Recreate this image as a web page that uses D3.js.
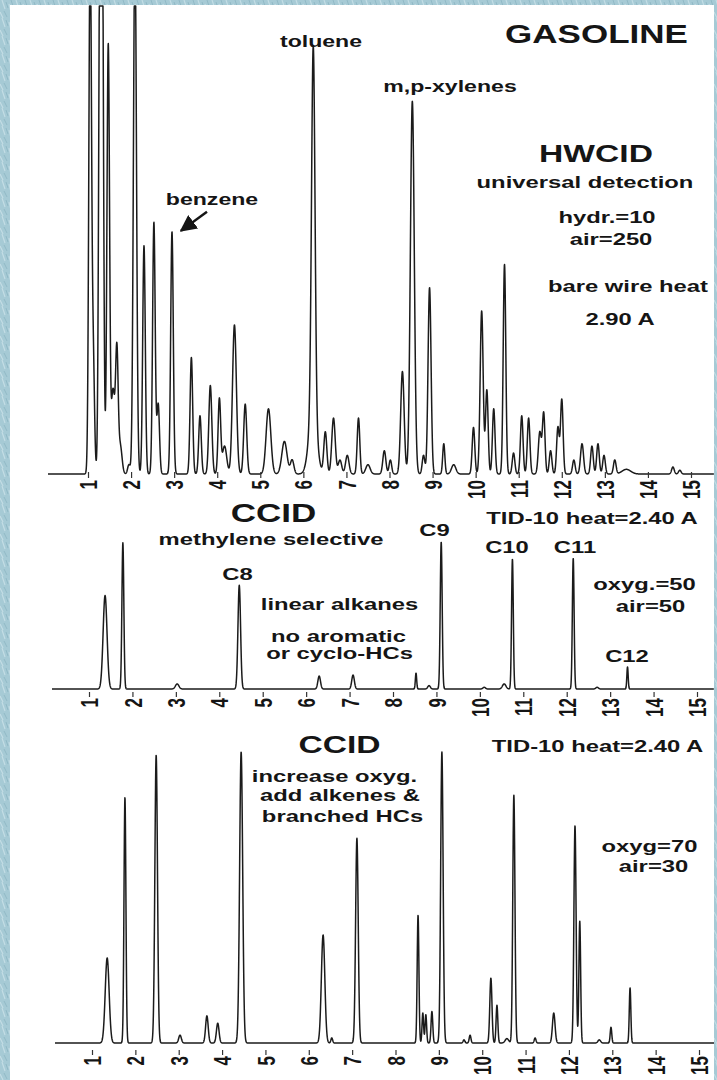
<!DOCTYPE html>
<html><head><meta charset="utf-8">
<script src="https://cdn.jsdelivr.net/npm/d3@7/dist/d3.min.js"></script>
<style>
html,body{margin:0;padding:0;background:#fff;}
svg{display:block;}
text{font-family:"Liberation Sans",Arial,Helvetica,sans-serif;font-weight:bold;fill:#151515;}
</style></head><body>
<svg id="chart" width="717" height="1080"></svg>
<script>
// ---------------- DATA ----------------
const tickValues = [1,2,3,4,5,6,7,8,9,10,11,12,13,14,15];   // retention time, min
const tickLabels = ["1","2","3","4","5","6","7","8","9","10","11","12","13","14","15"];

// HWCID – gasoline, universal detection (response in % of full scale; >100 = off scale)
const hwcidTimes   = [1.05,1.12,1.28,1.33,1.47,1.58,1.67,1.75,1.95,2.09,2.30,2.53,2.63,2.95,3.40,3.60,3.84,4.05,4.17,4.40,4.65,5.19,5.56,5.74,6.22,6.23,6.51,6.70,6.85,7.02,7.28,7.50,7.88,8.02,8.30,8.53,8.79,8.93,9.26,9.49,9.95,10.14,10.26,10.42,10.67,10.88,11.07,11.23,11.49,11.58,11.74,11.91,12.00,12.28,12.47,12.70,12.84,12.98,13.23,13.50,14.58,14.74];
const hwcidHeights = [115,25,115,115,92,18,26,6,2,115,49,54,15,52,25,12.5,19,16,6,32,15,14,7,3,14,78,9,12,3,4,12,2,5,3,22,80,4,40,6.5,2,10,35,18,14,45,4.5,12.5,12,9,13,5,10,16,3,6.5,6,6.5,4,3,1,1.5,0.8];
const hwcidWidths  = [0.03,0.03,0.03,0.03,0.03,0.04,0.03,0.04,0.03,0.035,0.03,0.03,0.03,0.03,0.03,0.03,0.035,0.03,0.05,0.045,0.035,0.055,0.06,0.04,0.09,0.04,0.035,0.04,0.04,0.04,0.03,0.05,0.035,0.03,0.04,0.045,0.03,0.035,0.025,0.05,0.03,0.035,0.03,0.03,0.03,0.03,0.03,0.03,0.035,0.03,0.03,0.03,0.03,0.03,0.035,0.03,0.03,0.03,0.03,0.1,0.03,0.03];

// CCID – methylene selective (oxyg.=50, air=50)
const ccid1Times   = [1.37,1.78,3.03,4.46,6.30,7.08,8.53,8.83,9.11,10.10,10.56,10.75,12.15,12.70,13.40];
const ccid1Heights = [55,86,3,61,7.6,8.2,9.4,2,86.5,1,3,76.5,77,1,13];
const ccid1Widths  = [0.045,0.022,0.04,0.03,0.03,0.03,0.015,0.03,0.022,0.03,0.04,0.02,0.02,0.03,0.015];

// CCID – increased oxygen (oxyg=70, air=30)
const ccid2Times   = [1.35,1.76,2.48,3.03,3.65,3.90,4.44,6.33,6.53,7.11,8.52,8.63,8.70,8.84,9.07,9.58,9.72,10.20,10.34,10.57,10.73,11.22,11.65,12.14,12.25,12.70,12.97,13.41];
const ccid2Heights = [27,78,91.4,2.5,8.6,6.3,92.4,34.3,1.6,65,40.6,9.5,9,10,92.4,1,2.5,20.6,12,1.4,78.7,1.6,9.5,69,38.7,1,5,17.5];
const ccid2Widths  = [0.045,0.022,0.03,0.03,0.03,0.03,0.035,0.04,0.02,0.03,0.02,0.018,0.018,0.02,0.028,0.02,0.02,0.025,0.02,0.04,0.025,0.02,0.03,0.025,0.02,0.03,0.018,0.018];

// ---------------- DRAWING ----------------
const svg = d3.select("#chart");
const SX = 1.4; // horizontal stretch of the scanned figure's lettering

function buildTrace(times, heights, widths, t0, t1){
  const pts = [];
  for (let t = t0; t <= t1 + 1e-9; t += 0.004){
    let v = 0;
    for (let i = 0; i < times.length; i++){
      const d = (t - times[i]) / widths[i];
      if (Math.abs(d) < 8) v += heights[i] * Math.exp(-0.5 * d * d);
    }
    pts.push([t, v]);
  }
  return pts;
}

function panel(cfg){
  const x = d3.scaleLinear().domain([1,15]).range(cfg.xr);
  const y = d3.scaleLinear().domain([0,100]).range([cfg.base, cfg.top]);
  const g = svg.append("g");
  const data = buildTrace(cfg.times, cfg.heights, cfg.widths, x.invert(cfg.x0), x.invert(cfg.x1));
  const line = d3.line().x(d => x(d[0])).y(d => Math.max(y(d[1]), cfg.clipTop));
  g.append("path").datum(data).attr("d", line)
    .attr("fill","none").attr("stroke","#1b1b1b").attr("stroke-width",1.5)
    .attr("stroke-linejoin","round");
  const axis = d3.axisBottom(x).tickValues(tickValues)
    .tickFormat((d,i) => tickLabels[i]).tickSizeOuter(0);
  const ag = g.append("g").attr("transform", `translate(0,${cfg.base})`).call(axis);
  ag.attr("font-size", null).attr("font-family", null);
  ag.select(".domain").remove();
  ag.selectAll(".tick line").attr("y1", cfg.tk[0]).attr("y2", cfg.tk[1])
    .attr("stroke","#333").attr("stroke-width",1.2);
  ag.selectAll(".tick text")
    .attr("x",0).attr("y",0).attr("dy","0.36em")
    .attr("text-anchor","end")
    .attr("transform", `translate(0,${cfg.lab}) scale(${SX},1) rotate(-90)`)
    .style("font-family",'"Liberation Sans",Arial,sans-serif')
    .style("font-weight","bold").style("font-size","17px").attr("fill","#151515");
  return {x, y, g};
}

const p1 = panel({times:hwcidTimes, heights:hwcidHeights, widths:hwcidWidths,
  xr:[88,691], base:474, top:8, x0:48, x1:714, clipTop:6, tk:[-2,4], lab:6});
const p2 = panel({times:ccid1Times, heights:ccid1Heights, widths:ccid1Widths,
  xr:[89,697], base:689, top:519, x0:52, x1:714, clipTop:0, tk:[3,8], lab:9});
const p3 = panel({times:ccid2Times, heights:ccid2Heights, widths:ccid2Widths,
  xr:[92,699], base:1043, top:728, x0:55, x1:717, clipTop:0, tk:[7,12], lab:13});

// ---------------- ANNOTATIONS ----------------
const notes = [
  ["GASOLINE", 596.5, 43, 25],
  ["toluene", 321, 47, 16.5],
  ["m,p-xylenes", 450, 92, 16.5],
  ["HWCID", 596, 162, 24],
  ["universal detection", 585, 188, 17],
  ["hydr.=10", 607, 223, 17],
  ["air=250", 611, 245, 17],
  ["bare wire heat", 628, 292, 17],
  ["2.90 A", 620, 325, 17],
  ["benzene", 212, 205, 16.5],
  ["CCID", 273.5, 522, 25],
  ["methylene selective", 271, 545, 17],
  ["C8", 237.5, 580, 17],
  ["C9", 434.5, 536, 17],
  ["linear alkanes", 339.5, 610, 17],
  ["no aromatic", 338.5, 642, 17],
  ["or cyclo-HCs", 339.5, 659, 17],
  ["TID-10 heat=2.40 A", 592, 524, 17],
  ["C10", 507, 553, 17],
  ["C11", 575, 553, 17],
  ["oxyg.=50", 644.5, 590, 17],
  ["air=50", 650.5, 612, 17],
  ["C12", 627, 662, 17],
  ["CCID", 339.5, 753, 24],
  ["increase oxyg.", 334.5, 782, 17],
  ["add alkenes &", 340, 801, 17],
  ["branched HCs", 342.5, 822, 17],
  ["TID-10 heat=2.40 A", 597.5, 752, 17],
  ["oxyg=70", 649.5, 852, 17],
  ["air=30", 653.5, 872, 17]
];
svg.append("g").selectAll("text").data(notes).join("text")
  .attr("text-anchor","middle")
  .attr("transform", d => `translate(${d[1]},${d[2]}) scale(${SX},1)`)
  .style("font-size", d => d[3] + "px")
  .text(d => d[0]);

// benzene arrow, pointing at the benzene peak
const bx = p1.x(2.95), by = p1.y(52);
svg.append("defs").append("marker").attr("id","ah")
  .attr("viewBox","0 0 10 10").attr("refX",9).attr("refY",5)
  .attr("markerWidth",7).attr("markerHeight",7).attr("orient","auto")
  .append("path").attr("d","M0,0 L10,5 L0,10 z").attr("fill","#151515");
svg.append("line").attr("x1", bx + 35).attr("y1", by - 20)
  .attr("x2", bx + 9).attr("y2", by - 1)
  .attr("stroke","#151515").attr("stroke-width",2.4).attr("marker-end","url(#ah)");

// ---------------- SCANNED-PAGE BORDER ----------------
const defs = svg.select("defs");
const pat = defs.append("pattern").attr("id","tex").attr("patternUnits","userSpaceOnUse")
  .attr("width",14).attr("height",18);
pat.append("rect").attr("width",14).attr("height",18).attr("fill","#a6cad5");
pat.append("path").attr("d","M2,0 L5,9 M9,4 L12,16 M0,12 L3,18").attr("stroke","#c3dde5").attr("stroke-width",1.2);
pat.append("path").attr("d","M6,2 L8,8 M11,0 L13,6 M4,11 L7,17").attr("stroke","#8fb7c4").attr("stroke-width",0.9);
svg.append("rect").attr("x",0).attr("y",0).attr("width",10).attr("height",1080).attr("fill","url(#tex)");
svg.append("rect").attr("x",0).attr("y",0).attr("width",717).attr("height",5).attr("fill","url(#tex)");
svg.append("rect").attr("x",714).attr("y",0).attr("width",3).attr("height",1080).attr("fill","url(#tex)");
</script>
</body></html>
